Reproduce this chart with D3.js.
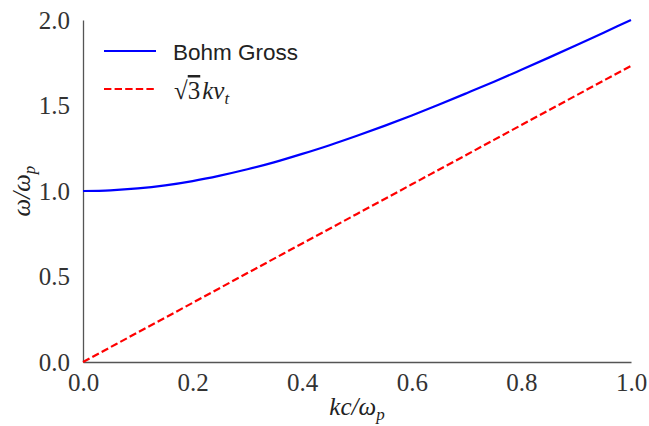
<!DOCTYPE html>
<html>
<head>
<meta charset="utf-8">
<script src="https://cdn.jsdelivr.net/npm/d3@7"></script>
<style>
  body { margin: 0; background: #fff; }
  .tick text { font-family: "Liberation Serif", serif; font-size: 25px; fill: #333; }
  .axis path.domain { stroke: #555; stroke-width: 1.3; }
</style>
</head>
<body>
<div class="chart"></div>
<script>
// k c / omega_p samples and values
const kValues = [0, 0.05, 0.1, 0.15, 0.2, 0.25, 0.3, 0.35, 0.4, 0.45, 0.5,
                 0.55, 0.6, 0.65, 0.7, 0.75, 0.8, 0.85, 0.9, 0.95, 1.0];
const bohmGross = [1.000, 1.004, 1.015, 1.033, 1.058, 1.090, 1.127, 1.169, 1.217, 1.268, 1.323,
                   1.381, 1.442, 1.506, 1.572, 1.639, 1.709, 1.780, 1.852, 1.926, 2.000];
const kLinear = [0, 0.1, 0.2, 0.3, 0.4, 0.5, 0.6, 0.7, 0.8, 0.9, 1.0];
const thermal = [0, 0.173, 0.346, 0.520, 0.693, 0.866, 1.039, 1.212, 1.386, 1.559, 1.732];
const xTicks = [0, 0.2, 0.4, 0.6, 0.8, 1.0];
const yTicks = [0, 0.5, 1.0, 1.5, 2.0];

const margin = {top: 20, right: 18, bottom: 64, left: 83};
const width = 649 - margin.left - margin.right, height = 426 - margin.top - margin.bottom;

var svg = d3.select('.chart')
            .append('svg')
            .attr("width", width + margin.left + margin.right)
            .attr("height", height + margin.top + margin.bottom)
            .append("g")
            .attr("transform", "translate(" + margin.left + "," + margin.top + ")");

var x = d3.scaleLinear().domain([0, 1]).range([0, width]);
var y = d3.scaleLinear().domain([0, 2]).range([height, 0]);

svg.append("g")
   .attr("class", "axis x-axis")
   .attr("transform", `translate(0, ${height})`)
   .call(d3.axisBottom(x).tickValues(xTicks).tickFormat(d3.format(".1f")).tickSize(0).tickSizeOuter(0).tickPadding(11));

svg.append("g")
   .attr("class", "axis y-axis")
   .call(d3.axisLeft(y).tickValues(yTicks).tickFormat(d3.format(".1f")).tickSize(0).tickSizeOuter(0).tickPadding(13));

var line = d3.line()
             .x(d => x(d[0]))
             .y(d => y(d[1]))
             .curve(d3.curveMonotoneX);

svg.append("path")
   .datum(d3.zip(kValues, bohmGross))
   .attr("fill", "none")
   .attr("stroke", "#0000ff")
   .attr("stroke-width", 2.2)
   .attr("d", line);

svg.append("path")
   .datum(d3.zip(kLinear, thermal))
   .attr("fill", "none")
   .attr("stroke", "#ff0000")
   .attr("stroke-width", 2.2)
   .attr("stroke-dasharray", "7.4,3.2")
   .attr("d", line);

// legend
var legend = svg.append("g").attr("transform", "translate(21, 31)");
legend.append("line")
      .attr("x1", 0).attr("x2", 52).attr("y1", 0).attr("y2", 0)
      .attr("stroke", "#0000ff").attr("stroke-width", 2.2);
legend.append("text")
      .attr("x", 69).attr("y", 9)
      .attr("font-family", "Liberation Sans, sans-serif")
      .attr("font-size", 22.5)
      .attr("fill", "#222")
      .text("Bohm Gross");
legend.append("line")
      .attr("x1", 0).attr("x2", 52).attr("y1", 38).attr("y2", 38)
      .attr("stroke", "#ff0000").attr("stroke-width", 2.2)
      .attr("stroke-dasharray", "7.4,3.2");
var mathLabel = legend.append("text")
      .attr("x", 70).attr("y", 48)
      .attr("font-family", "Liberation Serif, serif")
      .attr("font-size", 25)
      .attr("fill", "#222");
mathLabel.append("tspan").text("√");
mathLabel.append("tspan").style("text-decoration", "overline").text("3");
mathLabel.append("tspan").attr("font-style", "italic").attr("dx", 2).text("kv");
mathLabel.append("tspan").attr("font-style", "italic").attr("font-size", 17).attr("dy", 5).text("t");

// axis labels
var xLabel = svg.append("text")
      .attr("x", width / 2).attr("y", height + 53)
      .attr("text-anchor", "middle")
      .attr("font-family", "Liberation Serif, serif")
      .attr("font-size", 25)
      .attr("font-style", "italic")
      .attr("fill", "#222");
xLabel.append("tspan").text("kc/ω");
xLabel.append("tspan").attr("font-size", 17).attr("dy", 5).text("p");

var yLabel = svg.append("text")
      .attr("transform", `translate(${30 - margin.left}, ${height / 2}) rotate(-90)`)
      .attr("text-anchor", "middle")
      .attr("font-family", "Liberation Serif, serif")
      .attr("font-size", 25)
      .attr("font-style", "italic")
      .attr("fill", "#222");
yLabel.append("tspan").text("ω/ω");
yLabel.append("tspan").attr("font-size", 17).attr("dy", 5).text("p");
</script>
</body>
</html>
